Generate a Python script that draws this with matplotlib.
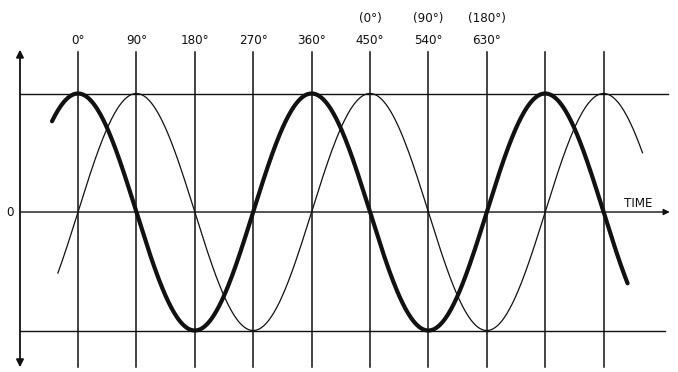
import matplotlib
matplotlib.use('Agg')
import matplotlib.pyplot as plt
import numpy as np

# phase grid (degrees) and the labels written above each line
grid_deg = [0, 90, 180, 270, 360, 450, 540, 630, 720, 810]
labels_lower = ['0°', '90°', '180°', '270°', '360°', '450°', '540°', '630°', '', '']
labels_upper = ['', '', '', '', '', '(0°)', '(90°)', '(180°)', '', '']

# visible span of each wave (degrees) and its phase offset
thick_span = (-40, 847)
thick_phase = 0      # peaks at 0°, 360°, 720°
thin_span = (-31, 870)
thin_phase = 90      # lags by 90°, peaks at 90°, 450°, 810°

ink = '#111111'

fig = plt.figure(figsize=(6.78, 3.72), dpi=100)
ax = fig.add_axes([0, 0, 1, 1])
ax.set_xlim(-120.2, 924.7)
ax.set_ylim(-1.350, 1.789)
ax.axis('off')

# vertical phase lines
for d in grid_deg:
    ax.plot([d, d], [-1.31, 1.35], color=ink, lw=1.1, zorder=1)

# +peak, zero and -peak rules
ax.plot([-89.4, 909], [1, 1], color=ink, lw=1.0, zorder=1)
ax.plot([-89.4, 904], [-1, -1], color=ink, lw=1.0, zorder=1)
ax.annotate('', xy=(912, 0), xytext=(-89.4, 0),
            arrowprops=dict(arrowstyle='-|>', color=ink, lw=1.0,
                            mutation_scale=9, shrinkA=0, shrinkB=0))

# amplitude axis with arrows both ways
ax.annotate('', xy=(-89.4, 1.37), xytext=(-89.4, -1.31),
            arrowprops=dict(arrowstyle='<|-|>', color=ink, lw=1.3,
                            mutation_scale=11, shrinkA=0, shrinkB=0))

# the two waves
t = np.linspace(*thick_span, 600)
ax.plot(t, np.cos(np.radians(t - thick_phase)), color=ink, lw=3.0,
        solid_capstyle='round', zorder=3)
t = np.linspace(*thin_span, 600)
ax.plot(t, np.cos(np.radians(t - thin_phase)), color=ink, lw=0.9, zorder=2)

font = dict(family='DejaVu Sans', stretch='condensed', fontsize=9.5, color=ink,
            ha='center', va='center')
for d, lo, up in zip(grid_deg, labels_lower, labels_upper):
    if lo:
        ax.text(d, 1.451, lo, **font)
    if up:
        ax.text(d, 1.637, up, **font)

ax.text(-104.8, 0, '0', **font)
ax.text(863, 0.076, 'TIME', **font)

fig.savefig('out.png', dpi=100, facecolor='white')
